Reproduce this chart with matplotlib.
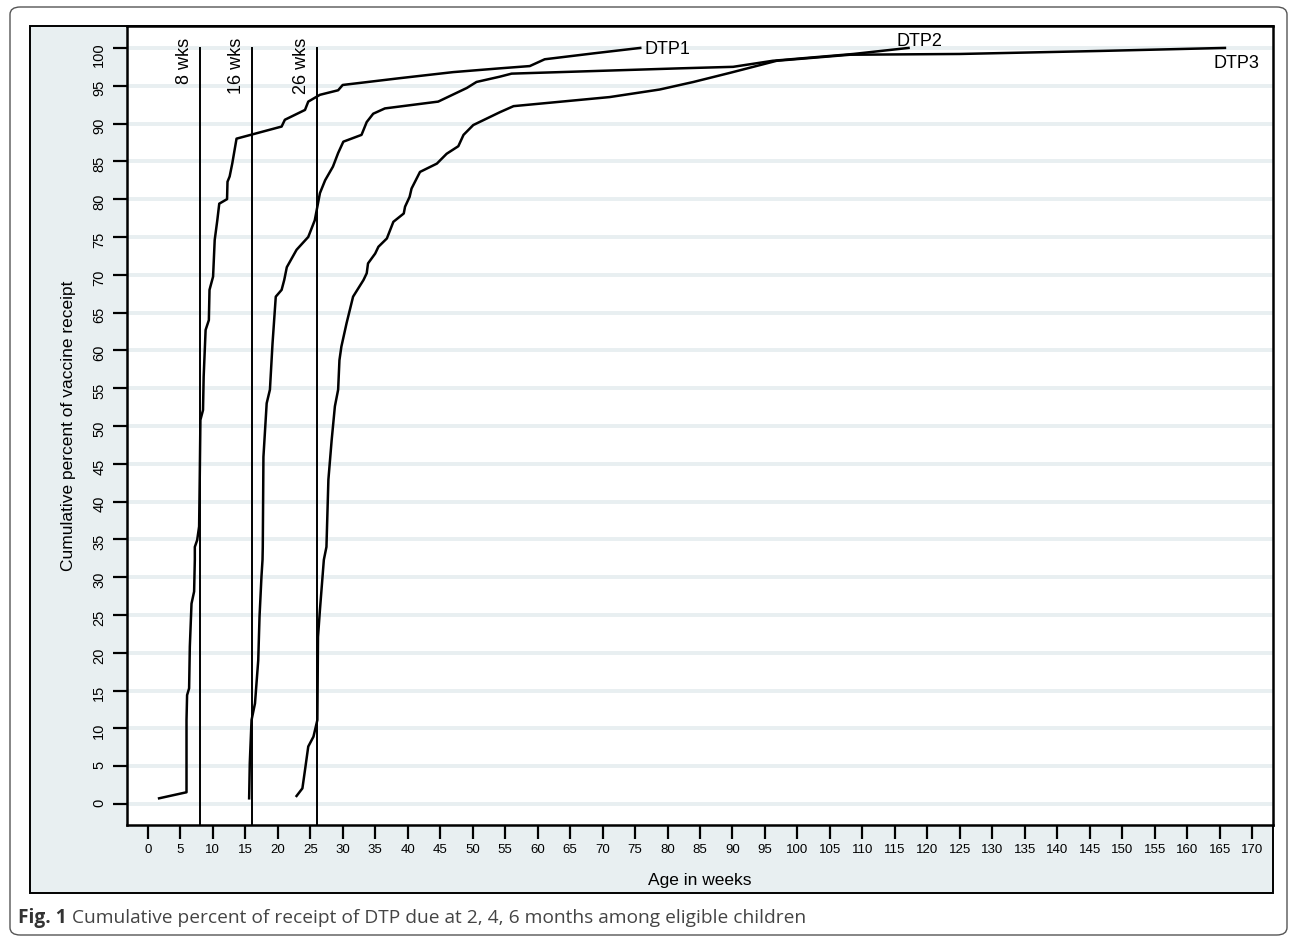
import matplotlib
matplotlib.use("Agg")
import matplotlib.pyplot as plt
from matplotlib.patches import Rectangle, FancyBboxPatch

plt.rcParams['font.family'] = ['Liberation Sans', 'DejaVu Sans']

# cumulative receipt curves (week, percent)
dtp1_weeks = [1.74, 5.96, 5.96, 6.05, 6.36, 6.47, 6.73, 7.13, 7.24, 7.24, 7.6, 7.9, 8.0, 8.1,
              8.5, 8.6, 8.9, 9.4, 9.5, 10.05, 10.3, 10.7, 11.0, 12.2, 12.27, 12.6, 13.0, 13.66,
              20.6, 21.1, 24.2, 24.7, 26.5, 29.3, 30.0, 38.8, 47.0, 54.2, 58.8, 61.1, 68.8, 75.8]
dtp1_pct = [0.75, 1.55, 11.1, 14.4, 15.3, 20.8, 26.5, 28.1, 32.3, 34.0, 34.9, 36.7, 43.3, 50.8,
            52.1, 56.5, 62.7, 64.0, 68.0, 69.75, 74.6, 77.2, 79.4, 80.0, 82.3, 83.0, 84.7, 88.0,
            89.6, 90.5, 91.8, 92.9, 93.8, 94.4, 95.1, 96.0, 96.8, 97.3, 97.6, 98.5, 99.3, 100.0]

dtp2_weeks = [15.6, 15.7, 15.97, 16.5, 17.0, 17.2, 17.5, 17.66, 17.7, 17.8, 18.3, 18.8, 19.2,
              19.7, 20.6, 21.0, 21.4, 22.9, 24.7, 25.7, 26.5, 27.3, 28.5, 29.3, 30.1, 32.9,
              33.7, 34.7, 36.5, 44.7, 49.1, 50.6, 54.2, 56.0, 81.9, 90.1, 96.2, 108.6, 117.1]
dtp2_pct = [0.75, 5.4, 11.1, 13.3, 19.0, 24.8, 30.1, 32.3, 34.0, 45.9, 53.0, 54.8, 60.9,
            67.1, 68.0, 69.3, 71.0, 73.3, 75.0, 77.2, 80.8, 82.5, 84.3, 86.1, 87.6, 88.5,
            90.2, 91.3, 92.0, 92.9, 94.7, 95.5, 96.2, 96.6, 97.3, 97.5, 98.3, 99.2, 100.0]

dtp3_weeks = [22.9, 23.8, 24.2, 24.7, 25.5, 26.1, 26.2, 26.5, 26.9, 27.1, 27.5, 27.8, 28.3,
              28.8, 29.3, 29.5, 29.8, 30.6, 31.6, 33.2, 33.7, 33.9, 35.0, 35.5, 36.8, 37.8,
              39.4, 39.6, 40.3, 40.6, 41.9, 44.5, 46.0, 47.8, 48.6, 50.1, 54.2, 56.3, 71.1,
              78.8, 84.0, 89.6, 96.8, 108.1, 125.0, 146.6, 165.8]
dtp3_pct = [1.06, 2.07, 4.5, 7.6, 8.9, 11.1, 22.1, 25.7, 30.1, 32.3, 34.0, 42.9, 48.1,
            52.6, 54.8, 58.7, 60.5, 63.6, 67.1, 69.3, 70.2, 71.5, 72.8, 73.7, 74.8, 77.0,
            78.1, 79.0, 80.3, 81.4, 83.6, 84.7, 86.0, 87.0, 88.5, 89.8, 91.5, 92.3, 93.5,
            94.5, 95.5, 96.7, 98.3, 99.1, 99.2, 99.6, 100.0]

due_weeks = [8, 16, 26]
due_labels = ["8 wks", "16 wks", "26 wks"]

W, H = 1290, 938
fig = plt.figure(figsize=(W / 100, H / 100), dpi=100)

# outer rounded frame
fig.patches.append(FancyBboxPatch((10 / W, 3 / H), 1277 / W, 928 / H,
                                  boxstyle="round,pad=0,rounding_size=0.008",
                                  transform=fig.transFigure, facecolor="white",
                                  edgecolor="#555555", lw=1.0, zorder=0))
# graph region background
fig.patches.append(Rectangle((30 / W, (H - 893) / H), (1273 - 30) / W, (893 - 26) / H,
                             transform=fig.transFigure, facecolor="#e8eff1",
                             edgecolor="black", lw=1.4, zorder=1))

ax = fig.add_axes([127 / W, (H - 825) / H, (1273 - 127) / W, (825 - 26) / H])
ax.set_zorder(5)
ax.set_facecolor("white")
ax.set_xlim(-3.2, 173.2)
ax.set_ylim(-2.78, 102.9)

yt = list(range(0, 101, 5))
for y in yt:
    ax.axhline(y, color="#e8eff1", lw=2.8, zorder=1)

for wk, lab in zip(due_weeks, due_labels):
    ax.plot([wk, wk], [-2.78, 100], color="black", lw=1.4, zorder=3)
    ax.text(wk - 1.0, 101.3, lab, rotation=90, ha="right", va="top", fontsize=13)

for xs, ys in [(dtp1_weeks, dtp1_pct), (dtp2_weeks, dtp2_pct), (dtp3_weeks, dtp3_pct)]:
    ax.plot(xs, ys, color="black", lw=1.8, zorder=4, solid_joinstyle="round")

ax.text(76.5, 100.1, "DTP1", ha="left", va="center_baseline", fontsize=13)
ax.text(115.3, 100.3, "DTP2", ha="left", va="baseline", fontsize=13)
ax.text(164.0, 98.2, "DTP3", ha="left", va="center_baseline", fontsize=13)

ax.set_xticks(list(range(0, 171, 5)))
ax.set_yticks(yt)
ax.tick_params(axis="both", direction="out", length=10, width=1.6, pad=4)
ax.tick_params(axis="x", labelsize=9.5)
ax.tick_params(axis="y", labelsize=10.5, labelrotation=90, pad=5)
for spine in ax.spines.values():
    spine.set_linewidth(1.8)

ax.set_xlabel("Age in weeks", fontsize=12.5, labelpad=12)
ax.set_ylabel("Cumulative percent of vaccine receipt", fontsize=12.5, labelpad=12)

cap = fig.text(18 / W, (H - 918) / H, "Fig. 1", fontsize=13.8, fontweight="bold",
               color="#333333", va="center", family=["Open Sans", "DejaVu Sans"])
fig.add_artist(plt.Annotation(
    "Cumulative percent of receipt of DTP due at 2, 4, 6 months among eligible children",
    xy=(1, 0.5), xycoords=cap, xytext=(4, 0), textcoords="offset points",
    va="center", ha="left", fontsize=13.8, color="#444444",
    family=["Open Sans", "DejaVu Sans"]))

fig.savefig("out.png", dpi=100)
